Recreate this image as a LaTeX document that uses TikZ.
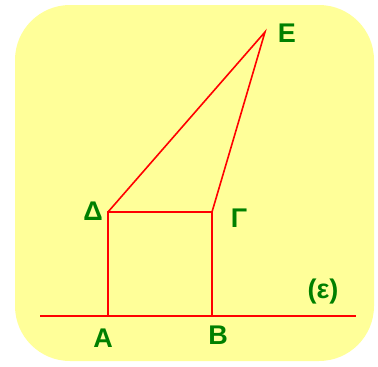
\documentclass[tikz,border=0pt]{standalone}
\usepackage{fontspec}
\setmainfont{Liberation Sans}
\definecolor{bgyellow}{RGB}{255,255,153}
\definecolor{lblgreen}{RGB}{0,128,0}
\begin{document}
\begin{tikzpicture}[x=1pt,y=-1pt,
  seg/.style={draw=red,line width=1.6pt},
  lbl/.style={text=lblgreen,font=\fontsize{27}{30}\selectfont\bfseries,inner sep=0pt}]
\useasboundingbox (0,0) rectangle (378,367);
\fill[bgyellow,rounded corners=55pt] (15,5) rectangle (374,361);
\coordinate (A) at (108,316);
\coordinate (B) at (212,316);
\coordinate (G) at (212,212);
\coordinate (D) at (108,212);
\coordinate (E) at (265,32);
\coordinate (L) at (40,316);
\coordinate (R) at (356,316);
\draw[seg] (L) -- (R);
\draw[seg] (A) -- (D) -- (G) -- (B);
\draw[seg] (D) -- (E) -- (G);
\node[lbl] (lE) at (287,33) {E};
\node[lbl] (lD) at (93,211) {Δ};
\node[lbl] (lG) at (239,218) {Γ};
\node[lbl] (lA) at (103,338) {A};
\node[lbl] (lB) at (218,335) {B};
\node[lbl] (lEps) at (323,292) {(ε)};
\end{tikzpicture}
\end{document}
